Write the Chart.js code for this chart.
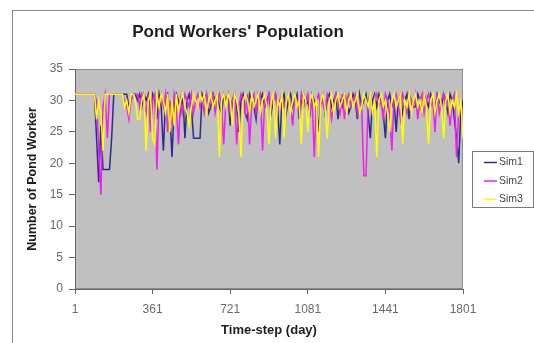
<!DOCTYPE html>
<html>
<head>
<meta charset="utf-8">
<script src="https://cdn.jsdelivr.net/npm/chart.js@4/dist/chart.umd.min.js"></script>
<style>
  html, body { margin: 0; padding: 0; background: #fff; }
  canvas { display: block; }
</style>
</head>
<body>
<canvas id="c" width="534" height="343"></canvas>
<script>
// Worker counts sampled every 10 days (day 1, 11, 21, ... 1801)
const DAY_STEP = 10;

const sim1 = [
  31,31,31,31,31,31,31,31,31,31,
  24,17,26,19,19,19,19,24,31,31,
  31,31,31,31,31,29,30,31,31,30,
  31,29,31,30,31,28,31,30,27,31,
  29,22,30,31,28,21,29,31,30,28,
  31,24,30,31,29,24,24,24,24,31,
  30,31,28,29,31,30,31,29,28,31,
  30,31,26,30,31,29,25,30,31,28,
  27,31,30,29,27,31,30,31,29,30,
  31,28,30,31,29,23,30,31,28,30,
  31,29,30,31,27,30,31,29,30,28,
  31,30,29,25,30,31,28,30,31,29,
  30,31,27,30,29,31,30,28,29,31,
  30,27,31,29,30,31,28,24,30,31,
  29,31,30,28,24,30,31,29,30,25,
  30,31,28,30,31,27,30,29,29,31,
  30,28,31,30,29,31,30,28,31,30,
  29,31,30,28,31,30,27,24,20,28,
  30
];

const sim2 = [
  31,31,31,31,31,31,31,31,31,31,
  30,22,15,29,31,24,31,31,31,31,
  31,31,31,30,29,27,30,31,31,31,
  29,31,30,28,31,25,30,31,19,30,
  31,29,31,25,30,26,31,29,23,30,
  28,31,30,29,31,28,30,31,29,30,
  28,31,29,30,31,28,30,31,29,23,
  30,31,28,30,31,23,29,31,30,28,
  31,23,30,31,28,30,31,22,30,29,
  31,29,30,31,28,30,31,29,30,31,
  29,26,31,30,28,31,29,30,31,28,
  30,21,30,31,29,30,28,31,30,27,
  29,31,30,28,31,27,30,31,29,30,
  31,28,30,29,18,18,30,31,28,30,
  31,29,30,27,31,30,28,22,30,31,
  29,27,31,30,28,31,30,29,31,27,
  30,31,28,30,31,29,30,25,31,28,
  30,31,29,30,26,30,31,21,28,30,
  25
];

const sim3 = [
  31,31,31,31,31,31,31,31,31,31,
  27,30,28,22,31,31,31,31,31,31,
  31,31,31,29,30,28,31,31,30,27,
  27,30,31,22,30,31,24,23,31,29,
  31,30,28,31,25,30,26,31,28,30,
  31,29,28,26,29,31,30,29,31,30,
  31,28,30,31,29,30,31,21,30,31,
  29,31,30,26,31,30,28,21,30,31,
  30,28,31,29,30,31,28,30,31,29,
  23,30,31,24,30,29,31,24,30,31,
  28,30,31,29,30,23,31,30,25,30,
  31,29,30,21,30,31,29,24,30,31,
  28,30,31,29,30,31,28,30,31,29,
  30,31,28,29,31,30,29,31,28,30,
  21,30,31,29,30,28,25,30,31,29,
  30,31,23,30,29,31,28,30,31,29,
  30,28,31,29,23,30,31,28,30,31,
  29,24,30,31,28,30,29,31,28,30,
  24
];

const seriesNames = ['Sim1', 'Sim2', 'Sim3'];
const seriesColors = ['#2c2c8e', '#f01ef0', '#ffff00'];
const xTicks = [1, 361, 721, 1081, 1441, 1801];
const yTicks = [0, 5, 10, 15, 20, 25, 30, 35];

const days = sim1.map((_, i) => 1 + i * DAY_STEP);
const toPoints = vals => vals.map((v, i) => ({ x: days[i], y: v }));

const FONT = '"Liberation Sans", Arial, Helvetica, sans-serif';
Chart.defaults.font.family = FONT;

// grey plot area, its border and the outer chart frame
const frame = {
  id: 'frame',
  beforeDraw(chart) {
    const { ctx, chartArea: a } = chart;
    ctx.save();
    ctx.fillStyle = '#fff';
    ctx.fillRect(0, 0, chart.width, chart.height);
    ctx.strokeStyle = '#8a8a8a';
    ctx.lineWidth = 1;
    ctx.strokeRect(12.5, 10.5, chart.width + 20, chart.height + 20);
    ctx.fillStyle = '#c0c0c0';
    ctx.fillRect(a.left, a.top, a.right - a.left, a.bottom - a.top);
    ctx.strokeStyle = '#8c8c8c';
    ctx.strokeRect(a.left + 0.5, a.top + 0.5, a.right - a.left - 1, a.bottom - a.top - 1);
    ctx.restore();
  }
};

// boxed legend with line samples to the right of the plot
const boxLegend = {
  id: 'boxLegend',
  afterDraw(chart) {
    const { ctx, chartArea: a } = chart;
    const w = 61, h = 56;
    const x0 = Math.round(a.right + 9);
    const y0 = Math.round((a.top + a.bottom) / 2 - h / 2);
    ctx.save();
    ctx.fillStyle = '#fff';
    ctx.fillRect(x0, y0, w, h);
    ctx.strokeStyle = '#7a7a7a';
    ctx.lineWidth = 1;
    ctx.strokeRect(x0 + 0.5, y0 + 0.5, w, h);
    ctx.font = '10.5px ' + FONT;
    ctx.textBaseline = 'middle';
    ctx.textAlign = 'left';
    chart.data.datasets.forEach((ds, i) => {
      const y = y0 + 11.5 + i * 18.5;
      ctx.strokeStyle = ds.borderColor;
      ctx.lineWidth = 1.5;
      ctx.beginPath();
      ctx.moveTo(x0 + 12, y);
      ctx.lineTo(x0 + 25, y);
      ctx.stroke();
      ctx.fillStyle = '#444';
      ctx.fillText(ds.label, x0 + 27, y);
    });
    ctx.restore();
  }
};

const allSeries = [sim1, sim2, sim3];

new Chart(document.getElementById('c'), {
  type: 'line',
  data: {
    datasets: allSeries.map((vals, i) => ({
      label: seriesNames[i],
      data: toPoints(vals),
      borderColor: seriesColors[i],
      backgroundColor: seriesColors[i],
      borderWidth: 1.5,
      pointRadius: 0,
      tension: 0,
      fill: false,
      order: allSeries.length - i
    }))
  },
  options: {
    responsive: false,
    animation: false,
    devicePixelRatio: 1,
    layout: { padding: { left: 13, right: 71, top: 0, bottom: 0 } },
    plugins: {
      legend: { display: false },
      tooltip: { enabled: false },
      title: {
        display: true,
        text: "Pond Workers' Population",
        color: '#1e1e1e',
        font: { size: 17, weight: 'bold', lineHeight: 1.25 },
        padding: { top: 21.5, bottom: 26.25 }
      }
    },
    scales: {
      x: {
        type: 'linear',
        min: xTicks[0],
        max: xTicks[xTicks.length - 1],
        afterBuildTicks: s => { s.ticks = xTicks.map(v => ({ value: v })); },
        afterFit: s => { s.height = 54; s.paddingLeft = 0; s.paddingRight = 0; },
        ticks: {
          color: '#6a6a6a', font: { size: 12 }, padding: 8, maxRotation: 0, autoSkip: false,
          callback: v => String(v)
        },
        grid: { drawOnChartArea: false, drawTicks: true, tickLength: 5, color: '#666' },
        border: { display: true, color: '#666', width: 1 },
        title: {
          display: true,
          text: 'Time-step (day)',
          color: '#1e1e1e',
          font: { size: 13, weight: 'bold', lineHeight: 1.2 },
          padding: { top: 0, bottom: 5 }
        }
      },
      y: {
        min: yTicks[0],
        max: yTicks[yTicks.length - 1],
        afterBuildTicks: s => { s.ticks = yTicks.map(v => ({ value: v })); },
        afterFit: s => { s.width = 62; s.paddingTop = 0; s.paddingBottom = 0; },
        ticks: { color: '#6a6a6a', font: { size: 12 }, padding: 6, callback: v => String(v) },
        grid: { drawOnChartArea: false, drawTicks: true, tickLength: 6, color: '#666' },
        border: { display: true, color: '#666', width: 1 },
        title: {
          display: true,
          text: 'Number of Pond Worker',
          color: '#1e1e1e',
          font: { size: 12.5, weight: 'bold', lineHeight: 1.2 },
          padding: { top: 12.5, bottom: 0 }
        }
      }
    }
  },
  plugins: [frame, boxLegend]
});
</script>
</body>
</html>
